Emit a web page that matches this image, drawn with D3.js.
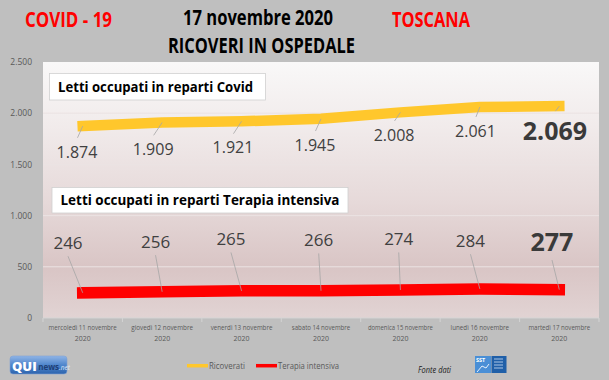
<!DOCTYPE html>
<html>
<head>
<meta charset="utf-8">
<script src="https://cdn.jsdelivr.net/npm/d3@7"></script>
<style>
html,body{margin:0;padding:0;background:#bfbfbf;}
svg{display:block;}
text{font-family:"Open Sans",sans-serif;}
</style>
</head>
<body>
<svg id="chart" width="609" height="380"></svg>
<script>
// ---- data ----
const categories = [
  ["mercoledì 11 novembre","2020"],
  ["giovedì 12 novembre","2020"],
  ["venerdì 13 novembre","2020"],
  ["sabato 14 novembre","2020"],
  ["domenica 15 novembre","2020"],
  ["lunedì 16 novembre","2020"],
  ["martedì 17 novembre","2020"]
];
const ricoverati = [1874, 1909, 1921, 1945, 2008, 2061, 2069];
const terapiaIntensiva = [246, 256, 265, 266, 274, 284, 277];
const yTicks = [0, 500, 1000, 1500, 2000, 2500];
const seriesNames = ["Ricoverati", "Terapia intensiva"];
const seriesColors = ["#ffc72c", "#ff0000"];

// ---- layout ----
const svg = d3.select("#chart");
const plot = {left: 43, right: 599, top: 62, bottom: 318};

const x = d3.scaleBand().domain(d3.range(categories.length)).range([plot.left, plot.right]);
const cx = i => x(i) + x.bandwidth() / 2;
const y = d3.scaleLinear().domain([0, 2500]).range([plot.bottom, plot.top]);
const fmt = d3.formatLocale({decimal: ",", thousands: ".", grouping: [3], currency: ["€",""]}).format(",d");

const defs = svg.append("defs");
const grad = defs.append("linearGradient").attr("id", "bg").attr("x1", 0).attr("y1", 0).attr("x2", 0).attr("y2", 1);
[[0, "#f9f8f8"], [0.25, "#f1ebeb"], [0.55, "#e6d9d9"], [0.8, "#d9c5c5"], [1, "#e1d3d3"]].forEach(s =>
  grad.append("stop").attr("offset", s[0]).attr("stop-color", s[1]));

// plot panel
svg.append("rect").attr("x", plot.left).attr("y", plot.top)
  .attr("width", plot.right - plot.left).attr("height", plot.bottom - plot.top)
  .attr("fill", "url(#bg)");

// gridlines
svg.append("g").selectAll("line").data(yTicks.filter(t => t > 0 && t < 2500)).join("line")
  .attr("x1", plot.left).attr("x2", plot.right)
  .attr("y1", d => y(d)).attr("y2", d => y(d))
  .attr("stroke", "#ebe3e3").attr("stroke-width", 1);

// y axis
const yAxis = d3.axisLeft(y).tickValues(yTicks).tickSize(0).tickPadding(0).tickFormat(fmt);
const gy = svg.append("g").attr("transform", `translate(${plot.left - 11},0)`).call(yAxis);
gy.select(".domain").remove();
gy.selectAll("text").attr("font-size", 8.5).attr("fill", "#595959").attr("dy", "0.32em");

// x axis
const gx = svg.append("g").attr("transform", `translate(0,${plot.bottom})`);
gx.append("line").attr("x1", plot.left).attr("x2", plot.right).attr("stroke", "#d4d4d4");
gx.selectAll("line.tk").data(d3.range(categories.length + 1)).join("line").attr("class", "tk")
  .attr("x1", i => plot.left + i * x.bandwidth()).attr("x2", i => plot.left + i * x.bandwidth())
  .attr("y1", 0).attr("y2", 4).attr("stroke", "#d4d4d4");
const xl = gx.selectAll("text.xl").data(categories).join("text").attr("class", "xl")
  .attr("x", (d, i) => cx(i)).attr("text-anchor", "middle")
  .attr("font-size", 7.8).attr("fill", "#595959");
xl.append("tspan").attr("x", (d, i) => cx(i)).attr("y", 12).text(d => d[0])
  .attr("textLength", d => d[0].length * 3.25).attr("lengthAdjust", "spacingAndGlyphs");
xl.append("tspan").attr("x", (d, i) => cx(i)).attr("y", 22.5).text(d => d[1])
  .attr("textLength", 16).attr("lengthAdjust", "spacingAndGlyphs");

// series lines
const line = d3.line().x((d, i) => cx(i)).y(d => y(d));
svg.append("path").datum(ricoverati).attr("d", line)
  .attr("fill", "none").attr("stroke", seriesColors[0]).attr("stroke-width", 10.5)
  .attr("stroke-linecap", "square").attr("stroke-linejoin", "round");
svg.append("path").datum(terapiaIntensiva).attr("d", line)
  .attr("fill", "none").attr("stroke", seriesColors[1]).attr("stroke-width", 11.5)
  .attr("stroke-linecap", "square").attr("stroke-linejoin", "round");

// data label offsets (layout)
const yOff = [[-5.7, 25.7], [-9, 26.8], [-8.6, 26.4], [-6, 26.2], [-6.4, 22.6], [-4.4, 24], [-4.3, 25]];
const rOff = [[-14.7, -50.1], [-6.6, -50.1], [-10.6, -51.9], [-2.3, -50.8], [-1.7, -51], [-9.4, -48.2], [-7.3, -47.6]];
const last = categories.length - 1;

// yellow labels + leaders
const yl = svg.append("g");
ricoverati.forEach((v, i) => {
  const px = cx(i), py = y(v);
  const lx = px + yOff[i][0], ly = py + yOff[i][1];
  const big = i === last;
  yl.append("line").attr("x1", px).attr("y1", py).attr("x2", lx + 0.5).attr("y2", ly - (big ? 20 : 14))
    .attr("stroke", "#a6a6a6").attr("stroke-width", 0.8);
  yl.append("text").attr("x", lx).attr("y", ly).attr("dy", "0.36em").attr("text-anchor", "middle")
    .attr("font-size", big ? 25 : 16).attr("font-weight", big ? 700 : 400)
    .attr("fill", big ? "#3a3a3a" : "#404040").text(fmt(v));
});
// red labels + leaders
const rl = svg.append("g");
terapiaIntensiva.forEach((v, i) => {
  const px = cx(i), py = y(v);
  const lx = px + rOff[i][0], ly = py + rOff[i][1];
  const big = i === last;
  rl.append("line").attr("x1", px).attr("y1", py).attr("x2", lx).attr("y2", ly + (big ? 18 : 13.5))
    .attr("stroke", "#a6a6a6").attr("stroke-width", 0.8);
  rl.append("text").attr("x", lx).attr("y", ly).attr("dy", "0.36em").attr("text-anchor", "middle")
    .attr("font-size", big ? 25 : 17).attr("font-weight", big ? 700 : 400)
    .attr("fill", big ? "#3a3a3a" : "#404040").text(fmt(v));
});

// annotation boxes
function box(x0, y0, w, h, label, tl) {
  svg.append("rect").attr("x", x0).attr("y", y0).attr("width", w).attr("height", h)
    .attr("fill", "#ffffff").attr("stroke", "#d0d0d0").attr("stroke-width", 0.8);
  svg.append("text").attr("x", x0 + 8.5).attr("y", y0 + h / 2).attr("dy", "0.35em")
    .attr("font-size", 14.5).attr("font-weight", 700).attr("fill", "#000")
    .attr("textLength", tl).attr("lengthAdjust", "spacingAndGlyphs").text(label);
}
box(49.5, 73.5, 216, 26.5, "Letti occupati in reparti Covid", 195);
box(52, 187.5, 296, 25.5, "Letti occupati in reparti Terapia intensiva", 279);

// titles
function title(t, x0, yb, w, color) {
  svg.append("text").attr("x", x0).attr("y", yb).attr("font-size", 21).attr("font-weight", 700)
    .attr("fill", color).attr("textLength", w).attr("lengthAdjust", "spacingAndGlyphs").text(t);
}
title("COVID - 19", 25, 26.7, 87, "#ff0000");
title("17 novembre 2020", 183, 25, 150, "#000000");
title("TOSCANA", 392, 26.7, 78, "#ff0000");
title("RICOVERI IN OSPEDALE", 168, 52.7, 187, "#000000");

// legend
const lg = svg.append("g");
const legX = [187, 256], legTL = [36, 61];
seriesNames.forEach((n, i) => {
  lg.append("line").attr("x1", legX[i]).attr("x2", legX[i] + 21).attr("y1", 365.7).attr("y2", 365.7)
    .attr("stroke", seriesColors[i]).attr("stroke-width", 3.5);
  lg.append("text").attr("x", legX[i] + 22).attr("y", 365.7).attr("dy", "0.35em")
    .attr("font-size", 9).attr("fill", "#595959")
    .attr("textLength", legTL[i]).attr("lengthAdjust", "spacingAndGlyphs").text(n);
});

// Fonte dati
svg.append("text").attr("x", 418).attr("y", 370).attr("dy", "0.35em").attr("font-size", 8.5)
  .attr("font-style", "italic").attr("fill", "#1a1a1a").attr("textLength", 33)
  .attr("lengthAdjust", "spacingAndGlyphs").text("Fonte dati");

// QUInews logo
const lgGrad = defs.append("linearGradient").attr("id", "qg").attr("x1", 0).attr("y1", 0).attr("x2", 0).attr("y2", 1);
[[0, "#8fb4e6"], [0.5, "#4f86cc"], [1, "#2d64ad"]].forEach(s =>
  lgGrad.append("stop").attr("offset", s[0]).attr("stop-color", s[1]));
svg.append("rect").attr("x", 10).attr("y", 356).attr("width", 57).attr("height", 18).attr("rx", 3)
  .attr("fill", "url(#qg)").attr("stroke", "#7fa3d3").attr("stroke-width", 0.6);
const qt = svg.append("text").attr("x", 12).attr("y", 370.5);
qt.append("tspan").attr("font-size", 13).attr("font-weight", 800).attr("fill", "#ffffff").text("QUI");
qt.append("tspan").attr("dx", 1.5).attr("dy", -1).attr("font-size", 8).attr("font-weight", 700)
  .attr("fill", "#1f3f75").text("news");
qt.append("tspan").attr("font-size", 6.5).attr("font-style", "italic").attr("fill", "#dfe9f7").text(".net");

// SST logo
svg.append("rect").attr("x", 475).attr("y", 356).attr("width", 16).attr("height", 17).attr("fill", "#4a8fd6");
svg.append("rect").attr("x", 491.5).attr("y", 356).attr("width", 15).attr("height", 17).attr("fill", "#1f5fa8");
svg.append("text").attr("x", 476).attr("y", 362).attr("font-size", 5.5).attr("font-weight", 700)
  .attr("fill", "#ffffff").text("SST");
svg.append("path").attr("d", "M477 372 L482 366 L486 368 L489 364").attr("fill", "none")
  .attr("stroke", "#e6f0fb").attr("stroke-width", 1);
[359, 362, 365, 368].forEach(yy => svg.append("line").attr("x1", 494).attr("x2", 503)
  .attr("y1", yy).attr("y2", yy).attr("stroke", "#cfe0f5").attr("stroke-width", 0.8));
</script>
</body>
</html>
